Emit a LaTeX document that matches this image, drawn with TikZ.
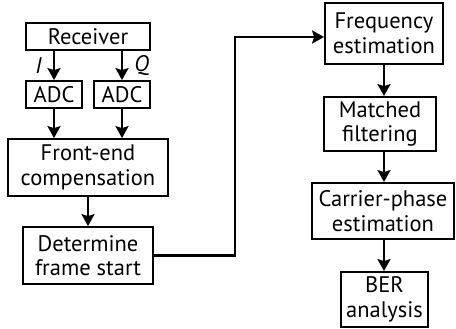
\documentclass[tikz,border=0pt]{standalone}
\usepackage{fontspec}
\setmainfont{PT Sans}
\usetikzlibrary{arrows.meta,positioning}
\tikzset{
blk/.style = {draw=black, line width=1.8pt, align=center, inner sep=0pt, text centered,
font=\fontsize{22.5}{24.5}\selectfont},% bloc de traitement
flow/.style = {line width=2.2pt, -{Stealth[length=12pt,width=13pt,inset=2pt]}},% fleche
chan/.style = {font=\fontsize{22.5}{24.5}\selectfont\itshape}% voie I / Q
}
\begin{document}
\begin{tikzpicture}[x=1pt,y=-1pt]
	\useasboundingbox (0,0) rectangle (456,329);
	% colonne de gauche
	\node [blk, minimum width=124pt, minimum height=27pt] (rec) at (88,36.5) {Receiver};
	\node [blk, minimum width=56pt, minimum height=27pt] (adcI) at (54,94.5) {ADC};
	\node [blk, minimum width=56pt, minimum height=27pt] (adcQ) at (122,94.5) {ADC};
	\node [blk, minimum width=160pt, minimum height=57pt] (fec) at (88,167.5) {Front-end\\compensation};
	\node [blk, minimum width=130pt, minimum height=57pt] (dfs) at (88,255.5) {Determine\\frame start};
	% colonne de droite
	\node [blk, minimum width=118pt, minimum height=61pt] (freq) at (384,33.5) {Frequency\\estimation};
	\node [blk, minimum width=112pt, minimum height=54pt] (mf) at (380,124) {Matched\\filtering};
	\node [blk, minimum width=142pt, minimum height=56pt] (cpe) at (383,211) {Carrier-phase\\estimation};
	\node [blk, minimum width=87pt, minimum height=55pt] (ber) at (384.5,299.5) {BER\\analysis};
	\coordinate (turn) at (235,37);
	% liaisons
	\draw [flow] (adcI |- rec.south) -- (adcI.north) node [chan, midway, left=8pt] {I};
	\draw [flow] (adcQ |- rec.south) -- (adcQ.north) node [chan, midway, right=8pt] {Q};
	\draw [flow] (adcI.south) -- (adcI.south |- fec.north);
	\draw [flow] (adcQ.south) -- (adcQ.south |- fec.north);
	\draw [flow] (fec.south) -- (dfs.north);
	\draw [flow] (dfs.east) -| (turn) -- (freq.west |- turn);
	\draw [flow] (384,0 |- freq.south) -- (384,0 |- mf.north);
	\draw [flow] (384,0 |- mf.south) -- (384,0 |- cpe.north);
	\draw [flow] (384,0 |- cpe.south) -- (384,0 |- ber.north);
\end{tikzpicture}
\end{document}
